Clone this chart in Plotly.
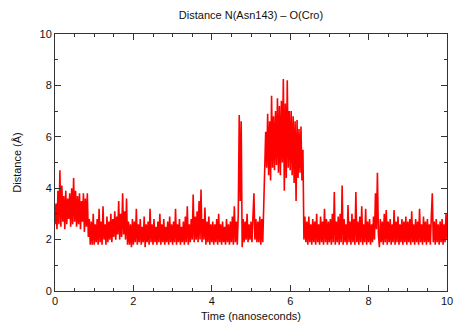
import plotly.graph_objects as go

STEP = 0.025  # ns between samples

# Distance (Å) samples, one block per nanosecond
d_0ns = [2.6, 3.4, 2.4, 3.9, 2.6, 4.7, 2.5, 4.1, 2.7, 3.7, 2.4, 3.9, 2.6, 3.6, 2.8, 3.8, 2.5, 4.0, 2.6, 4.4,
         2.7, 3.9, 2.5, 3.7, 2.6, 3.8, 2.4, 3.5, 2.7, 3.8, 2.3, 3.6, 2.5, 3.8, 2.1, 2.8, 1.8, 2.7, 1.8, 3.0]
d_1ns = [1.8, 2.6, 1.9, 2.8, 1.8, 3.2, 1.9, 2.7, 1.8, 3.3, 2.0, 2.6, 1.8, 2.9, 1.9, 2.7, 2.0, 3.0, 1.9, 2.8,
         2.1, 3.1, 2.0, 2.9, 2.2, 3.5, 2.0, 3.0, 2.1, 3.8, 2.2, 3.1, 2.0, 3.6, 1.8, 2.7, 1.8, 2.6, 1.7, 2.8]
d_2ns = [1.8, 2.7, 1.9, 3.2, 1.8, 2.6, 1.9, 2.8, 1.8, 2.5, 1.9, 2.9, 1.7, 2.6, 1.9, 2.7, 1.8, 3.2, 1.9, 2.6,
         1.8, 2.8, 1.9, 2.5, 1.8, 2.7, 1.9, 3.0, 1.8, 2.6, 1.9, 2.8, 1.8, 2.5, 1.9, 2.7, 1.8, 2.9, 1.9, 2.6]
d_3ns = [1.8, 2.7, 1.9, 3.2, 1.8, 2.6, 1.9, 2.8, 1.8, 2.5, 1.9, 2.7, 1.8, 2.9, 1.9, 3.3, 1.8, 2.6, 1.9, 2.8,
         2.0, 3.75, 1.9, 2.9, 2.0, 3.1, 1.9, 3.5, 2.0, 3.95, 1.9, 2.8, 2.0, 3.25, 1.8, 2.7, 1.9, 2.9, 1.8, 2.6]
d_4ns = [1.9, 2.7, 1.8, 2.6, 1.9, 2.8, 1.8, 3.0, 1.9, 2.6, 1.8, 2.7, 1.9, 2.5, 1.8, 2.8, 1.9, 2.6, 1.8, 2.7,
         1.9, 2.9, 1.8, 3.3, 1.9, 2.7, 1.8, 3.0, 6.85, 3.5, 6.6, 1.7, 2.8, 1.9, 2.7, 2.0, 3.0, 1.9, 2.6, 2.0]
d_5ns = [2.7, 1.9, 2.9, 3.8, 2.0, 2.8, 1.9, 2.7, 1.9, 2.9, 1.8, 2.8, 1.9, 3.6, 4.6, 6.2, 4.8, 6.9, 4.5, 6.6,
         4.3, 7.6, 4.8, 6.8, 4.7, 7.0, 4.9, 7.5, 4.6, 7.2, 4.5, 7.4, 5.0, 8.25, 3.9, 7.3, 4.4, 8.2, 4.8, 7.0]
d_6ns = [4.7, 7.0, 4.5, 6.8, 4.2, 6.6, 3.5, 6.65, 4.4, 6.3, 4.6, 6.4, 4.3, 5.5, 2.0, 2.9, 1.9, 2.7, 1.8, 2.9,
         1.9, 2.6, 1.8, 2.8, 1.9, 2.7, 1.8, 3.0, 1.9, 2.6, 1.8, 2.9, 1.9, 2.7, 1.8, 3.2, 1.9, 2.8, 1.8, 2.7]
d_7ns = [1.9, 2.8, 1.8, 3.0, 1.9, 3.85, 1.8, 2.7, 1.9, 2.9, 1.8, 3.0, 1.9, 4.1, 1.8, 2.8, 1.9, 2.6, 1.8, 3.35,
         1.9, 2.7, 1.8, 3.0, 1.9, 2.8, 1.8, 3.85, 1.9, 2.7, 1.8, 2.9, 1.9, 3.3, 1.8, 2.6, 1.9, 3.2, 1.8, 2.7]
d_8ns = [1.9, 2.8, 1.8, 2.6, 1.9, 2.9, 2.0, 3.8, 2.4, 4.6, 2.2, 1.7, 2.8, 1.9, 2.7, 1.8, 3.0, 1.9, 3.15, 1.8,
         2.7, 1.9, 2.8, 1.8, 2.6, 1.9, 3.15, 1.8, 2.7, 1.9, 2.9, 1.8, 2.6, 1.9, 2.8, 1.8, 2.7, 1.9, 2.9, 1.8]
d_9ns = [2.7, 1.9, 2.8, 1.8, 3.1, 1.9, 2.6, 1.8, 2.8, 1.9, 2.7, 1.8, 3.2, 1.9, 2.6, 1.8, 2.9, 1.9, 2.7, 1.8,
         2.8, 1.9, 2.6, 1.8, 2.9, 3.8, 1.9, 2.7, 1.8, 2.8, 1.9, 2.6, 1.8, 2.7, 1.9, 2.8, 1.8, 2.6, 1.9, 3.0, 2.0]

distance = d_0ns + d_1ns + d_2ns + d_3ns + d_4ns + d_5ns + d_6ns + d_7ns + d_8ns + d_9ns
time_ns = [i * STEP for i in range(len(distance))]

x_ticks = [0, 2, 4, 6, 8, 10]
y_ticks = [0, 2, 4, 6, 8, 10]

FONT = "Liberation Sans, Arial, Helvetica, sans-serif"

fig = go.Figure(go.Scatter(
    x=time_ns, y=distance, mode="lines",
    line=dict(color="#ff0000", width=1.6),
    hoverinfo="skip", showlegend=False,
))

axis_common = dict(
    range=[0, 10], showgrid=False, zeroline=False, automargin=False,
    showline=True, linecolor="#333333", linewidth=1, mirror="ticks",
    ticks="inside", ticklen=6, tickwidth=1, tickcolor="#333333",
    tickfont=dict(family=FONT, size=11, color="#111111"),
)

fig.update_xaxes(
    **axis_common, tickvals=x_ticks,
    minor=dict(dtick=0.5, ticks="inside", ticklen=3, tickcolor="#333333", tickwidth=1),
    title=dict(text="Time (nanoseconds)", font=dict(family=FONT, size=11, color="#111111"), standoff=6),
)
fig.update_yaxes(
    **axis_common, tickvals=y_ticks,
    minor=dict(dtick=1, ticks="inside", ticklen=3, tickcolor="#333333", tickwidth=1),
    title=dict(text="Distance (Å)", font=dict(family=FONT, size=11, color="#111111"), standoff=15),
)

fig.update_layout(
    width=455, height=333,
    margin=dict(l=55, r=8, t=34, b=42),
    paper_bgcolor="white", plot_bgcolor="white",
    title=dict(text="Distance N(Asn143) – O(Cro)", xref="paper", x=0.5, xanchor="center",
               y=0.955, yanchor="middle",
               font=dict(family=FONT, size=11, color="#111111")),
)

fig.write_html("out.html")
